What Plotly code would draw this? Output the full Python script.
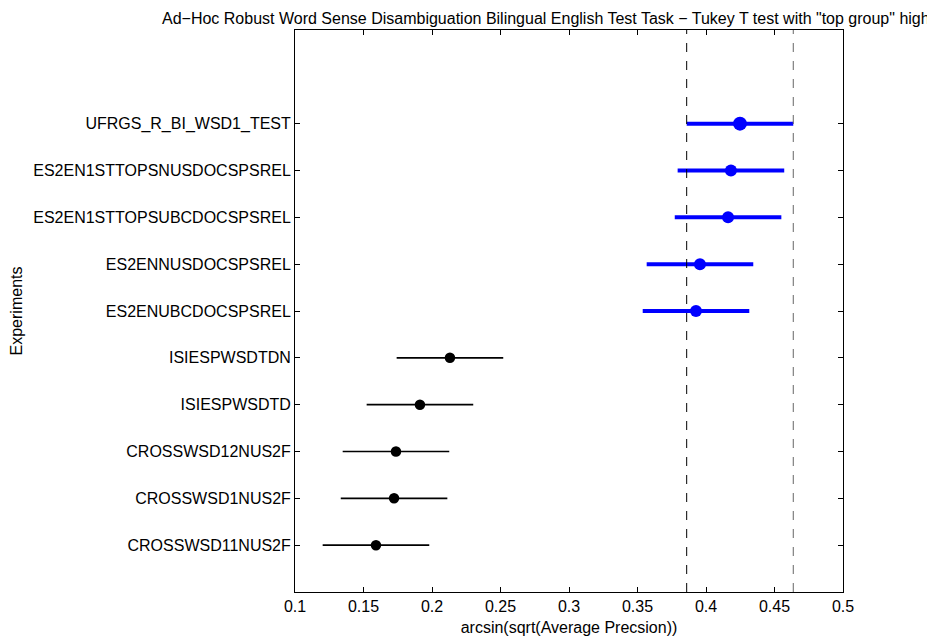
import plotly.graph_objects as go

# Data (top to bottom as shown)
experiments = [
    "UFRGS_R_BI_WSD1_TEST",
    "ES2EN1STTOPSNUSDOCSPSREL",
    "ES2EN1STTOPSUBCDOCSPSREL",
    "ES2ENNUSDOCSPSREL",
    "ES2ENUBCDOCSPSREL",
    "ISIESPWSDTDN",
    "ISIESPWSDTD",
    "CROSSWSD12NUS2F",
    "CROSSWSD1NUS2F",
    "CROSSWSD11NUS2F",
]
means = [0.4248, 0.4182, 0.4161, 0.3956, 0.3927, 0.2131, 0.1912, 0.1737, 0.1723, 0.1591]
half_width = [0.0389] * 10
top_group = [True, True, True, True, True, False, False, False, False, False]
x_ticks = [0.1, 0.15, 0.2, 0.25, 0.3, 0.35, 0.4, 0.45, 0.5]
x_tick_labels = ["0.1", "0.15", "0.2", "0.25", "0.3", "0.35", "0.4", "0.45", "0.5"]

n = len(experiments)
ypos = [n - i for i in range(n)]  # 10 at top .. 1 at bottom

FONT = "Liberation Sans, Arial, Helvetica, sans-serif"
FS = 16
fig = go.Figure()

for i in range(n):
    if top_group[i]:
        color, thick, msize = "#0000ff", 4, (14 if i == 0 else 12)
    else:
        color, thick, msize = "#000000", 1.6, 10.5
    fig.add_trace(go.Scatter(
        x=[means[i]], y=[ypos[i]], mode="markers",
        marker=dict(color=color, size=msize),
        error_x=dict(type="data", array=[half_width[i]], color=color,
                     thickness=thick, width=0),
        showlegend=False, hoverinfo="skip",
    ))

# dashed lines at the bounds of the selected (top) group's interval
lo = means[0] - half_width[0]
hi = means[0] + half_width[0]
fig.add_shape(type="line", xref="x", yref="paper", x0=lo, x1=lo, y0=0, y1=1,
              line=dict(color="#000000", width=1, dash="dash"))
fig.add_shape(type="line", xref="x", yref="paper", x0=hi, x1=hi, y0=0, y1=1,
              line=dict(color="#666666", width=1, dash="dash"))

fig.add_annotation(
    text='Ad\u2212Hoc Robust Word Sense Disambiguation Bilingual English Test Task \u2212 Tukey T test with "top group" highlighted',
    xref="paper", yref="paper", x=0.5, y=1, xanchor="center", yanchor="bottom",
    yshift=1, showarrow=False, font=dict(family=FONT, size=FS, color="black"),
)

fig.update_layout(
    width=927, height=631,
    margin=dict(l=287, r=92, t=22, b=47),
    paper_bgcolor="white", plot_bgcolor="white",
    font=dict(family=FONT, size=FS, color="black"),
)
fig.update_xaxes(
    range=[0.1, 0.5], tickvals=x_ticks, ticktext=x_tick_labels,
    ticks="inside", ticklen=5, tickcolor="black", mirror="ticks",
    showline=True, linecolor="black", linewidth=1, showgrid=False, zeroline=False,
    automargin=False,
    title=dict(text="arcsin(sqrt(Average Precsion))", standoff=7,
               font=dict(family=FONT, size=FS)),
)
fig.update_yaxes(
    range=[0, 12], tickvals=ypos, ticktext=experiments,
    ticks="inside", ticklen=5, tickcolor="black", mirror="ticks",
    showline=True, linecolor="black", linewidth=1, showgrid=False, zeroline=False,
    automargin=False,
    title=dict(text="Experiments", standoff=6, font=dict(family=FONT, size=FS)),
)

fig.write_html("out.html")
